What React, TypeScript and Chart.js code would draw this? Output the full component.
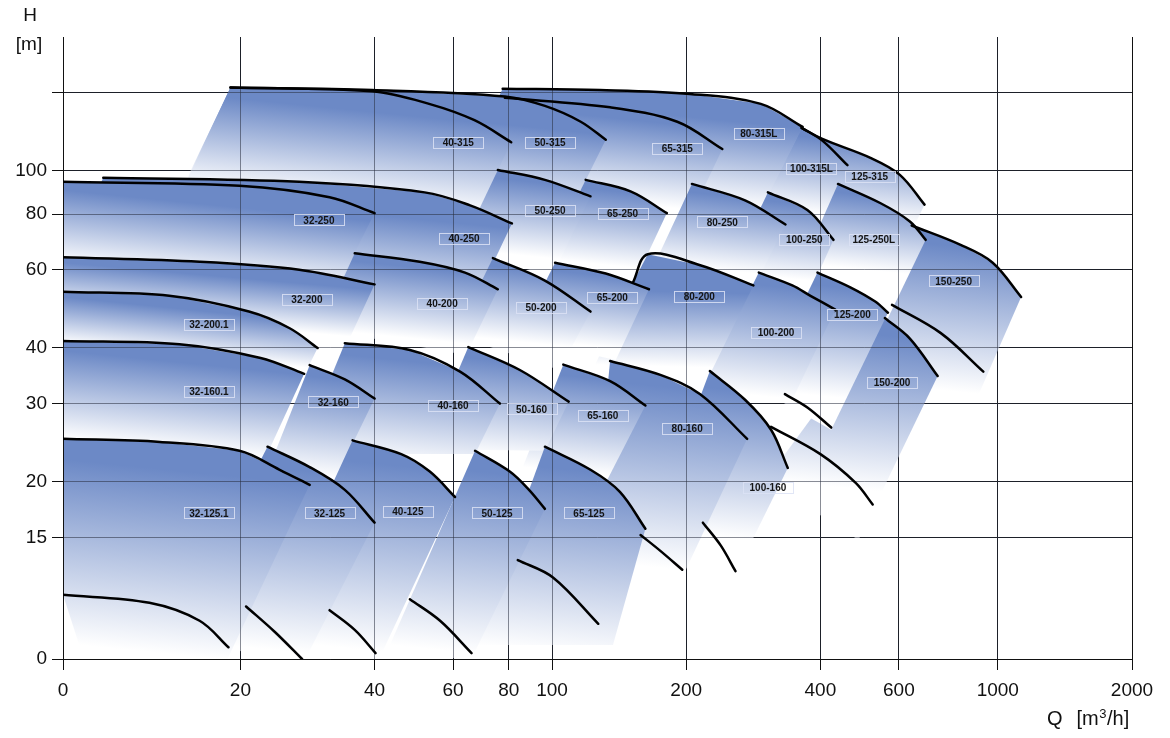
import React, { useEffect, useRef } from "react";
import { Chart, registerables } from "chart.js";

Chart.register(...registerables);

const xTickValues = [8, 20, 40, 60, 80, 100, 200, 400, 600, 1000, 2000];
const xTickLabels = ["0", "20", "40", "60", "80", "100", "200", "400", "600", "1000", "2000"];
const yTickValues = [8, 15, 20, 30, 40, 60, 80, 100, 150];
const yTickLabels = ["0", "15", "20", "30", "40", "60", "80", "100", ""];

// pump fields in drawing order (first = lowest layer)
const regionNames = [
  "125-315", "100-315L", "80-315L", "65-315", "50-315", "40-315",
  "150-250", "125-250L", "100-250", "80-250", "65-250", "50-250", "40-250", "32-250",
  "150-200", "125-200", "100-200", "80-200", "65-200", "50-200", "40-200", "32-200", "32-200.1",
  "100-160", "80-160", "65-160", "50-160", "40-160", "32-160", "32-160.1",
  "65-125", "50-125", "40-125", "32-125", "32-125.1",
];

// max impeller curve (top of each field), Q [m3/h]
const maxCurveQ = [
  [363, 404, 518, 603, 685],
  [363, 404, 460],
  [77.5, 128, 204, 294, 365],
  [78.4, 135, 191, 241],
  [19, 39.5, 78.4, 96.4, 116, 132],
  [19, 39.5, 53, 67, 81],
  [641, 825, 974, 1128],
  [438, 546, 635, 689],
  [305, 374, 428],
  [206, 271, 334],
  [119, 150, 181],
  [75.6, 96.4, 122],
  [9.85, 27.1, 51.8, 65.5, 81.3],
  [8, 19.9, 31.7, 40],
  [558, 635, 733],
  [394, 468, 532, 567],
  [291, 346, 380, 432],
  [152, 164, 215, 283],
  [101.6, 132, 165],
  [73.7, 96.4, 122],
  [36.1, 50.5, 63.8, 75.6],
  [8, 16.2, 27.1, 40],
  [8, 13.85, 20.9, 25.8, 29.8],
  [226, 271, 310, 338],
  [135, 175, 215, 274],
  [106, 135, 162],
  [64.9, 84.7, 109],
  [34.3, 48, 62.2, 76.4],
  [28.6, 34.3, 40],
  [8, 14.6, 22.2, 27.8],
  [96.4, 122, 142, 162],
  [67.2, 80.4, 88.8, 96.4],
  [35.7, 45.9, 53.2, 60.6],
  [23, 28.6, 34.3, 40],
  [8, 13.2, 19.9, 24.5, 28.6],
];
// max impeller curve, H [m]
const maxCurveH = [
  [125, 118, 107, 98, 84],
  [125, 117, 103],
  [153, 152, 149, 141.5, 125.6],
  [146, 139, 129, 112],
  [154, 152, 147, 140, 129, 117.5],
  [154, 151, 141.5, 130, 116],
  [75.4, 68.2, 62.2, 52.1],
  [93.5, 84.6, 77, 70],
  [89.5, 81.7, 70],
  [93.5, 85.9, 75.8],
  [95.5, 90, 80.4],
  [100.5, 95.5, 87.7],
  [96.5, 94.5, 89.5, 83.7, 76.2],
  [94.5, 92.6, 87.3, 80.4],
  [46.7, 42, 34.6],
  [59.1, 54.7, 50.8, 48],
  [59.1, 55.3, 52.4, 48.8],
  [56.2, 65, 61.4, 55.3],
  [62.2, 58.8, 54.2],
  [63.7, 56.7, 48.3],
  [65.3, 62.5, 59.1, 54.2],
  [64, 62.5, 60, 55.6],
  [53.5, 52.4, 48.3, 44.3, 40],
  [35.5, 30.6, 26.2, 21.5],
  [37.4, 34.8, 31.5, 25],
  [36.7, 33.7, 29.7],
  [40.2, 35.7, 30.3],
  [41, 39.6, 35.4, 30],
  [36.6, 34, 30.8],
  [41.5, 40.8, 38, 35],
  [24, 21.3, 19, 15.7],
  [23.5, 21.1, 19.2, 17.4],
  [24.8, 23.1, 21.1, 18.5],
  [24, 21.6, 19.2, 16.2],
  [25, 24.6, 23.5, 21.3, 19.7],
];
// lower outline of each field (bottom-right, bottom-left, ...), Q
const edgeQ = [
  [560, 295], [378, 295], [289, 62], [193, 63], [105, 15.2], [65, 15],
  [891, 442], [564, 365], [355, 250], [271, 170], [149, 97.4], [100, 62.2], [66.8, 7.9], [32.8, 7.3],
  [487, 302], [423, 294], [346, 215], [215, 125], [139, 83.4], [104, 60.6], [64.2, 30.2], [32.6, 7.3], [26.5, 7.1],
  [242, 166], [181, 122], [133, 86], [96.4, 51.8], [67.2, 27.1], [32.6, 23], [22.5, 7.3],
  [137, 66.2], [65.5, 43.3], [40.7, 22.2], [27.8, 13.85], [18.6, 8.7, 8],
];
// lower outline of each field, H
const edgeH = [
  [55.6, 82.5], [68, 82.5], [79, 96], [70, 92], [74, 96.5], [73, 93],
  [30.3, 33.9], [46.2, 61.9], [46.2, 59.1], [50, 61.9], [53, 63.4], [57.9, 66.7], [50.3, 60], [54.1, 62.5],
  [14.8, 20.2], [26.2, 32.2], [30.6, 32.2], [31.5, 36.7], [37.6, 42], [35.7, 42.7], [38.6, 44.1], [35.7, 48.7], [31.5, 41.5],
  [10.9, 15.6], [10.3, 13.3], [20.2, 21.6], [23.5, 23.7], [23.1, 23.1], [20.2, 21.1], [22.1, 25.3],
  [8.6, 8.6], [7.9, 8.6], [7.9, 8.85], [7.9, 8.85], [7.9, 8.6, 11.15],
];

// min impeller curves
const minCurveQ = [
  [8, 12.5, 16.2, 18.8],
  [20.6, 23.9, 27.5],
  [31.7, 36.1, 40.2],
  [48, 56.1, 66],
  [83.8, 100.5, 127],
  [158, 175, 196],
  [218, 239, 258],
  [333, 374, 423],
  [310, 400, 480, 524],
  [579, 745, 928],
];
const minCurveH = [
  [11.15, 10.7, 9.75, 8.5],
  [10.5, 9.2, 8],
  [10.3, 9.3, 8.25],
  [10.9, 9.75, 8.25],
  [13.35, 12.2, 9.6],
  [15.2, 14, 12.7],
  [16.2, 14.4, 12.6],
  [31.5, 29.4, 26.5],
  [26.6, 23.1, 19.9, 17.8],
  [50, 43.2, 35.4],
];

// field labels
const labelNames = [
  "40-315", "50-315", "65-315", "80-315L", "100-315L", "125-315",
  "32-250", "40-250", "50-250", "65-250", "80-250", "100-250", "125-250L", "150-250",
  "32-200", "32-200.1", "40-200", "50-200", "65-200", "80-200", "100-200", "125-200", "150-200",
  "32-160.1", "32-160", "40-160", "50-160", "65-160", "80-160", "100-160",
  "32-125.1", "32-125", "40-125", "50-125", "65-125",
];
const labelQ = [
  61.6, 99, 191, 291, 382, 516,
  30, 63.5, 99, 144, 241, 368, 527, 796,
  28.2, 17, 56.7, 94.5, 136.5, 214, 318, 472, 579,
  17, 32.3, 60, 90, 130, 201, 305,
  17, 31.7, 47.5, 75.3, 121,
];
const labelH = [
  115.8, 115.8, 112.3, 121.2, 101, 97,
  77.4, 70.4, 81.3, 80, 76.6, 70, 70, 56.5,
  51.3, 45, 50.3, 49.2, 51.9, 52.1, 43.2, 47.5, 33.4,
  31.9, 30.2, 29.7, 29.1, 28.2, 26.3, 19.4,
  17, 17, 17.1, 17, 17,
];

const FONT = '"Liberation Sans", Arial, Helvetica, sans-serif';
const DARK = "rgb(108,137,198)";
const LIGHT = "rgb(255,255,255)";

function regionFill(chart: any, i: number) {
  const xs = chart.scales && chart.scales.x;
  const ys = chart.scales && chart.scales.y;
  if (!xs || !ys || !chart.chartArea) return DARK;
  const tq = maxCurveQ[i], th = maxCurveH[i];
  const bq = edgeQ[i], bh = edgeH[i];
  const ax = xs.getPixelForValue(tq[0]);
  const ay = ys.getPixelForValue(th[0]);
  const bx = xs.getPixelForValue(tq[tq.length - 1]);
  const by = ys.getPixelForValue(th[th.length - 1]);
  const cx = bx - ax, cy = by - ay;
  const len = Math.hypot(cx, cy) || 1;
  let nx = Math.max(-0.1, Math.min(0, -cy / len));
  let ny = Math.sqrt(1 - nx * nx);
  const dx = xs.getPixelForValue(bq[1]) - ax;
  const dy = ys.getPixelForValue(bh[1]) - ay;
  let L = dx * nx + dy * ny;
  if (L < 12) L = 12;
  const g = chart.ctx.createLinearGradient(ax, ay, ax + nx * L, ay + ny * L);
  g.addColorStop(0, DARK);
  g.addColorStop(0.1, DARK);
  g.addColorStop(1, LIGHT);
  return g;
}

function align(p: number) {
  return Math.round(p - 0.5) + 0.5;
}

function drawGridOverlay(chart: any) {
  const { ctx, chartArea } = chart;
  const xs = chart.scales.x, ys = chart.scales.y;
  ctx.save();
  ctx.beginPath();
  ctx.rect(chartArea.left, chartArea.top, chartArea.right - chartArea.left, chartArea.bottom - chartArea.top);
  ctx.clip();
  ctx.lineWidth = 1;
  ctx.strokeStyle = "rgba(40,45,62,0.55)";
  ctx.beginPath();
  xTickValues.forEach((v) => {
    if (v === 8) return;
    const px = align(xs.getPixelForValue(v));
    ctx.moveTo(px, chartArea.top);
    ctx.lineTo(px, chartArea.bottom);
  });
  yTickValues.forEach((v) => {
    if (v === 8) return;
    const py = align(ys.getPixelForValue(v));
    ctx.moveTo(chartArea.left, py);
    ctx.lineTo(chartArea.right, py);
  });
  ctx.stroke();
  ctx.restore();
  ctx.save();
  ctx.strokeStyle = "#111";
  ctx.lineWidth = 1;
  ctx.beginPath();
  const lx = align(xs.getPixelForValue(8));
  const by = align(ys.getPixelForValue(8));
  ctx.moveTo(lx, chartArea.top);
  ctx.lineTo(lx, by);
  ctx.lineTo(chartArea.right, by);
  ctx.stroke();
  ctx.restore();
}

const overlayPlugin = {
  id: "overlay",
  afterDatasetDraw(chart: any, args: any) {
    if (args.index === regionNames.length - 1) drawGridOverlay(chart);
  },
  afterDatasetsDraw(chart: any) {
    const { ctx } = chart;
    const xs = chart.scales.x, ys = chart.scales.y;
    ctx.save();
    ctx.font = `bold 10px ${FONT}`;
    ctx.textAlign = "center";
    ctx.textBaseline = "middle";
    labelNames.forEach((t, i) => {
      const px = xs.getPixelForValue(labelQ[i]);
      const py = ys.getPixelForValue(labelH[i]);
      ctx.strokeStyle = "rgba(220,226,244,0.85)";
      ctx.lineWidth = 1;
      ctx.strokeRect(Math.round(px - 25) + 0.5, Math.round(py - 6) + 0.5, 50, 11);
      ctx.fillStyle = "#151515";
      ctx.fillText(t, px, py + 0.5);
    });
    ctx.restore();
  },
  afterDraw(chart: any) {
    const { ctx } = chart;
    ctx.save();
    ctx.fillStyle = "#111";
    ctx.font = `19px ${FONT}`;
    ctx.textAlign = "center";
    ctx.textBaseline = "middle";
    ctx.fillText("H", 30, 16);
    ctx.fillText("[m]", 29, 45);
    ctx.textAlign = "left";
    const y0 = 719;
    let x0 = 1047;
    ctx.font = `20px ${FONT}`;
    ctx.fillText("Q", x0, y0);
    x0 += ctx.measureText("Q").width + 14;
    ctx.fillText("[m", x0, y0);
    x0 += ctx.measureText("[m").width + 0.5;
    ctx.font = `13px ${FONT}`;
    ctx.fillText("3", x0, y0 - 5);
    x0 += ctx.measureText("3").width + 0.5;
    ctx.font = `20px ${FONT}`;
    ctx.fillText("/h]", x0, y0);
    ctx.restore();
  },
};

export default function App() {
  const ref = useRef<HTMLCanvasElement>(null);

  useEffect(() => {
    if (!ref.current) return;
    const datasets: any[] = [];
    regionNames.forEach((name, i) => {
      const pts = maxCurveQ[i]
        .map((q, k) => ({ x: q, y: maxCurveH[i][k] }))
        .concat(edgeQ[i].map((q, k) => ({ x: q, y: edgeH[i][k] })));
      datasets.push({
        label: name + " field",
        data: pts,
        fill: "shape",
        borderWidth: 0,
        borderColor: "rgba(0,0,0,0)",
        backgroundColor: (c: any) => regionFill(c.chart, i),
        pointRadius: 0,
        tension: 0,
        order: 1000 - i,
      });
    });
    regionNames.forEach((name, i) => {
      datasets.push({
        label: name,
        data: maxCurveQ[i].map((q, k) => ({ x: q, y: maxCurveH[i][k] })),
        fill: false,
        borderColor: "#000",
        borderWidth: 2.5,
        pointRadius: 0,
        tension: 0.35,
        borderCapStyle: "round",
        order: 0,
      });
    });
    minCurveQ.forEach((qs, i) => {
      datasets.push({
        label: "min " + i,
        data: qs.map((q, k) => ({ x: q, y: minCurveH[i][k] })),
        fill: false,
        borderColor: "#000",
        borderWidth: 2.5,
        pointRadius: 0,
        tension: 0.35,
        borderCapStyle: "round",
        order: 0,
      });
    });

    const tickFont = { family: FONT, size: 19 };
    const chart = new Chart(ref.current, {
      type: "line",
      data: { datasets },
      options: {
        animation: false,
        responsive: false,
        events: [],
        layout: { padding: { top: 37, right: 38, left: 0, bottom: 0 } },
        plugins: { legend: { display: false }, tooltip: { enabled: false } },
        elements: { point: { radius: 0 } },
        scales: {
          x: {
            type: "logarithmic",
            min: 8,
            max: 2000,
            afterBuildTicks: (s: any) => {
              s.ticks = xTickValues.map((v) => ({ value: v }));
            },
            afterFit: (s: any) => {
              s.height = 79;
            },
            ticks: {
              autoSkip: false,
              maxRotation: 0,
              minRotation: 0,
              padding: 9,
              color: "#111",
              font: tickFont,
              callback: (v: any) => {
                const k = xTickValues.indexOf(Number(v));
                return k >= 0 ? xTickLabels[k] : "";
              },
            },
            grid: {
              color: (c: any) => (c.tick && c.tick.value === 8 ? "rgba(0,0,0,0)" : "#111"),
              tickColor: "#111",
              lineWidth: 1,
              tickLength: 11,
            },
            border: { color: "#111", width: 1 },
          },
          y: {
            type: "logarithmic",
            min: 8,
            max: 200,
            afterBuildTicks: (s: any) => {
              s.ticks = yTickValues.map((v) => ({ value: v }));
            },
            afterFit: (s: any) => {
              s.width = 63;
            },
            ticks: {
              autoSkip: false,
              padding: 5,
              color: "#111",
              font: tickFont,
              callback: (v: any) => {
                const k = yTickValues.indexOf(Number(v));
                return k >= 0 ? yTickLabels[k] : "";
              },
            },
            grid: {
              color: (c: any) => (c.tick && c.tick.value === 8 ? "rgba(0,0,0,0)" : "#111"),
              tickColor: "#111",
              lineWidth: 1,
              tickLength: 11,
            },
            border: { color: "#111", width: 1 },
          },
        },
      },
      plugins: [overlayPlugin],
    } as any);
    return () => chart.destroy();
  }, []);

  return (
    <div style={{ position: "fixed", left: 0, top: 0, width: 1170, height: 738, background: "#fff" }}>
      <canvas ref={ref} width={1170} height={738} style={{ display: "block" }} />
    </div>
  );
}
